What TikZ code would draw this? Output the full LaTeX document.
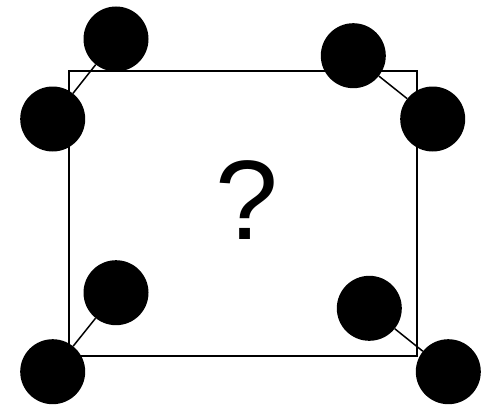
\documentclass[tikz,border=0pt]{standalone}
\usepackage{fontspec}
\setmainfont{Liberation Sans}
\begin{document}
\begin{tikzpicture}[x=1pt,y=-1pt,
  ball/.style={circle,fill=black,draw=none,minimum size=65pt,inner sep=0pt},
  frame/.style={draw=black,line width=1.5pt},
  link/.style={draw=black,line width=1.5pt}]
\useasboundingbox (0,0) rectangle (481,404);
\draw[frame] (69,71) rectangle (417,356);
\node[font=\fontsize{113}{113}\selectfont] (q) at (247,200) {?};
\node[ball] (a1) at (116,39) {};
\node[ball] (a2) at (52.7,119) {};
\node[ball] (b1) at (353.3,55.7) {};
\node[ball] (b2) at (432.7,119) {};
\node[ball] (c1) at (116,292.7) {};
\node[ball] (c2) at (52.7,371.7) {};
\node[ball] (d1) at (369.3,308.3) {};
\node[ball] (d2) at (448.3,371.7) {};
\draw[link] (a1) -- (a2);
\draw[link] (b1) -- (b2);
\draw[link] (c1) -- (c2);
\draw[link] (d1) -- (d2);
\end{tikzpicture}
\end{document}
